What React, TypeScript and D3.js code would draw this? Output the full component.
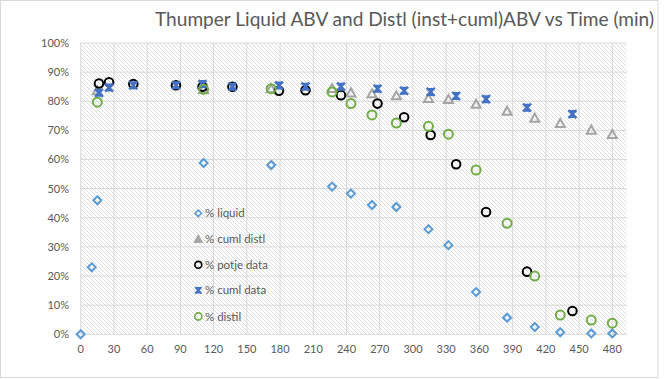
import React from "react";
import * as d3 from "d3";

const W = 668;
const H = 379;

const xTicks = [0, 30, 60, 90, 120, 150, 180, 210, 240, 270, 300, 330, 360, 390, 420, 450, 480];
const yTicks = [0, 0.1, 0.2, 0.3, 0.4, 0.5, 0.6, 0.7, 0.8, 0.9, 1.0];

const liquidX = [0, 10, 15, 111, 172, 227, 244, 263, 285, 314, 332, 357, 385, 410, 433, 461, 480];
const liquidY = [0, 23.0, 46.0, 58.8, 58.1, 50.7, 48.3, 44.4, 43.7, 36.1, 30.6, 14.5, 5.7, 2.5, 0.7, 0.3, 0.3];

const distlX = [15, 111, 172, 227, 244, 263, 285, 314, 332, 357, 385, 410, 433, 461, 480];
const cumlDistlY = [83.6, 84.1, 84.3, 84.4, 82.9, 82.6, 81.9, 81.0, 80.6, 79.0, 76.6, 74.2, 72.4, 70.1, 68.6];
const distilY = [79.7, 84.1, 84.3, 83.2, 79.2, 75.3, 72.5, 71.4, 68.7, 56.4, 38.1, 20.0, 6.6, 4.9, 3.8];

const dataX = [16.5, 25.6, 47.5, 86, 110, 137, 179, 203, 235, 268, 292, 316, 339, 366, 403, 444];
const potjeY = [86.1, 86.5, 85.9, 85.5, 85.0, 85.0, 83.6, 83.8, 82.1, 79.2, 74.5, 68.4, 58.4, 42.0, 21.5, 8.0];
const cumlDataY = [82.9, 84.7, 85.5, 85.5, 85.9, 85.0, 85.4, 85.0, 85.0, 84.3, 83.6, 83.2, 81.8, 80.7, 77.8, 75.6];

const legendLabels = ["% liquid", "% cuml distl", "% potje data", "% cuml data", "% distil"];

const C_LIQ = "#5B9BD5";
const C_CD = "#A5A5A5";
const C_POT = "#000000";
const C_CDATA = "#4472C4";
const C_DIS = "#70AD47";

const x = d3.scaleLinear().domain([0, 493]).range([80.7, 626.7]);
const y = d3.scaleLinear().domain([0, 1]).range([334.3, 43]);

const FONT = "Lato, 'Liberation Sans', sans-serif";
const TXT = "#595959";

function Marker({ kind, cx, cy, legend }: { kind: string; cx: number; cy: number; legend?: boolean }) {
  if (kind === "diamond") {
    const s = 4;
    return (
      <path
        d={`M${cx},${cy - s}L${cx + s},${cy}L${cx},${cy + s}L${cx - s},${cy}Z`}
        fill="none"
        stroke={C_LIQ}
        strokeWidth={2}
      />
    );
  }
  if (kind === "triangle") {
    const s = 4.5;
    return (
      <path
        d={`M${cx},${cy - s}L${cx + s},${cy + s * 0.8}L${cx - s},${cy + s * 0.8}Z`}
        fill={legend ? C_CD : "none"}
        stroke={C_CD}
        strokeWidth={2}
      />
    );
  }
  if (kind === "potje") {
    return <circle cx={cx} cy={cy} r={4.3} fill="none" stroke={C_POT} strokeWidth={2} />;
  }
  if (kind === "distil") {
    return <circle cx={cx} cy={cy} r={4.5} fill="none" stroke={C_DIS} strokeWidth={2} />;
  }
  const s = 4;
  return (
    <g>
      <path
        d={`M${cx - s},${cy - s}L${cx + s},${cy + s}M${cx + s},${cy - s}L${cx - s},${cy + s}`}
        stroke={C_CDATA}
        strokeWidth={2.4}
      />
      <path
        d={`M${cx - s + 1},${cy - s}L${cx + s - 1},${cy - s}L${cx},${cy}Z M${cx - s + 1},${cy + s}L${cx + s - 1},${cy + s}L${cx},${cy}Z`}
        fill={C_CDATA}
      />
    </g>
  );
}

export default function App() {
  const series = [
    { kind: "diamond", xs: liquidX, ys: liquidY },
    { kind: "triangle", xs: distlX, ys: cumlDistlY },
    { kind: "potje", xs: dataX, ys: potjeY },
    { kind: "cdata", xs: dataX, ys: cumlDataY },
    { kind: "distil", xs: distlX, ys: distilY },
  ];
  const legendKinds = ["diamond", "triangle", "potje", "cdata", "distil"];
  const legendY = [213.3, 239.2, 264.8, 290.3, 316.5];

  const x0 = x(0);
  const x1 = x(493);
  const yTop = y(1);
  const yBot = y(0);

  return (
    <div style={{ position: "absolute", left: 0, top: 0 }}>
      <svg width={W} height={H} style={{ display: "block" }}>
        <defs>
          <pattern id="hatch" width="4" height="4" patternUnits="userSpaceOnUse">
            <rect width="4" height="4" fill="#ffffff" />
            <path d="M-1,-1L5,5M-1,3L1,5M3,-1L5,1" stroke="#d9d9d9" strokeWidth={0.85} />
          </pattern>
        </defs>
        <rect x={0} y={0} width={W} height={H} fill="#ffffff" />
        <rect x={0.5} y={0.5} width={657.5} height={377} fill="none" stroke="#d9d9d9" strokeWidth={1} />

        <text
          x={654}
          y={26}
          textAnchor="end"
          fontFamily={FONT}
          fontSize={18.5}
          fill={TXT}
          textLength={499}
          lengthAdjust="spacingAndGlyphs"
        >
          Thumper Liquid ABV and Distl (inst+cuml)ABV vs Time (min)
        </text>

        <rect x={x0} y={yTop} width={x1 - x0} height={yBot - yTop} fill="url(#hatch)" />

        {yTicks.map((t) => (
          <line key={"gy" + t} x1={x0} x2={x1} y1={y(t)} y2={y(t)} stroke="#d9d9d9" strokeWidth={1} />
        ))}
        {xTicks.map((t) => (
          <line key={"gx" + t} x1={x(t)} x2={x(t)} y1={yTop} y2={yBot} stroke="#d9d9d9" strokeWidth={1} />
        ))}

        {yTicks.map((t) => (
          <text
            key={"ty" + t}
            x={69}
            y={y(t)}
            dy="0.35em"
            textAnchor="end"
            fontFamily={FONT}
            fontSize={11}
            fill={TXT}
          >
            {d3.format(".0%")(t)}
          </text>
        ))}
        {xTicks.map((t) => (
          <text
            key={"tx" + t}
            x={x(t)}
            y={349}
            dy="0.35em"
            textAnchor="middle"
            fontFamily={FONT}
            fontSize={11}
            fill={TXT}
          >
            {t}
          </text>
        ))}

        {series.map((s, si) =>
          s.xs.map((xv, i) => (
            <Marker key={si + "-" + i} kind={s.kind} cx={x(xv)} cy={y(s.ys[i] / 100)} />
          ))
        )}

        {legendLabels.map((lab, i) => (
          <g key={"lg" + i}>
            <g transform={`translate(${198.3},${legendY[i]}) scale(0.8) translate(${-198.3},${-legendY[i]})`}>
              <Marker kind={legendKinds[i]} cx={198.3} cy={legendY[i]} legend />
            </g>
            <text
              x={205}
              y={legendY[i]}
              dy="0.35em"
              fontFamily={FONT}
              fontSize={11.5}
              fill={TXT}
            >
              {lab}
            </text>
          </g>
        ))}
      </svg>
    </div>
  );
}
